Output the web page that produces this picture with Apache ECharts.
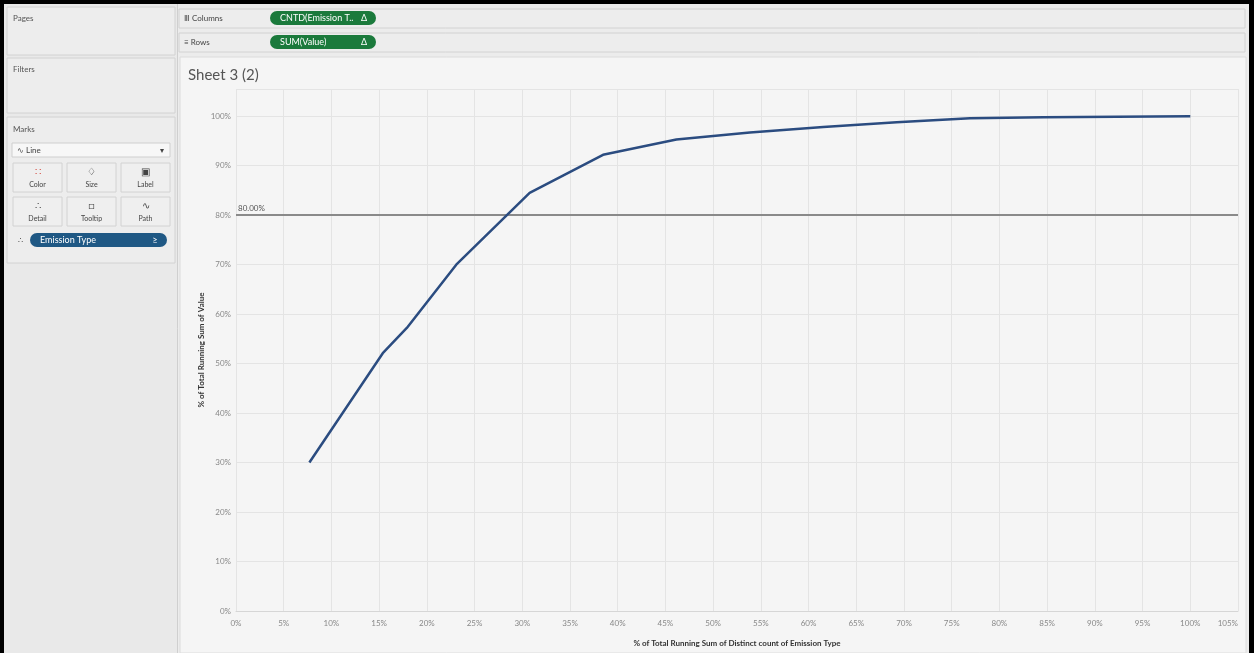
<!DOCTYPE html>
<html>
<head>
<meta charset="utf-8">
<script src="https://cdn.jsdelivr.net/npm/echarts@6/dist/echarts.min.js"></script>
<style>
  html, body { margin: 0; padding: 0; background: #000; }
  #chart { width: 1254px; height: 653px; }
</style>
</head>
<body>
<div id="chart"></div>
<script>
// running share of distinct emission types (x) vs running share of value (y)
var xShare = [0.0769, 0.1538, 0.179, 0.2308, 0.3077, 0.3846, 0.4615, 0.5385, 0.6154, 0.6923, 0.7692, 0.8462, 0.9231, 1.0];
var yShare = [0.300, 0.521, 0.572, 0.700, 0.845, 0.922, 0.953, 0.967, 0.978, 0.988, 0.996, 0.998, 0.999, 1.000];
var refValue = 0.8;
var refLabel = '80.00%';

var xTitle = '% of Total Running Sum of Distinct count of Emission Type';
var yTitle = '% of Total Running Sum of Value';
var sheetTitle = 'Sheet 3 (2)';

var FONT = 'Lato, "Noto Sans", sans-serif';
var lineColor = '#2b4c80';

function pct(v) {
    return Math.round(v * 100) + '%';
}

var points = xShare.map(function (x, i) { return [x, yShare[i]]; });

// tableau-like side panels and shelves, drawn as plain graphic shapes (kept under the grid)
function card(x, y, w, h) {
    return { type: 'rect', shape: { x: x, y: y, width: w, height: h }, style: { fill: '#ededed', stroke: '#d2d2d2', lineWidth: 1 }, z: -8 };
}
function label(x, y, t, size, color, extra) {
    var s = { text: t, x: x, y: y, fontSize: size || 9, fontFamily: FONT, fill: color || '#555' };
    if (extra) { for (var k in extra) s[k] = extra[k]; }
    return { type: 'text', style: s, z: -5 };
}
function pill(x, y, w, h, fill, t, tail) {
    return [
        { type: 'rect', shape: { x: x, y: y, width: w, height: h, r: h / 2 }, style: { fill: fill }, z: -6 },
        label(x + 10, y + h / 2, t, 9, '#fff', { verticalAlign: 'middle' }),
        label(x + w - 12, y + h / 2, tail, 9, '#fff', { verticalAlign: 'middle', align: 'center' })
    ];
}

var markButtons = [
    { name: 'Color', icon: '\u2237', col: 0, row: 0 },
    { name: 'Size', icon: '\u2662', col: 1, row: 0 },
    { name: 'Label', icon: '\u25A3', col: 2, row: 0 },
    { name: 'Detail', icon: '\u2234', col: 0, row: 1 },
    { name: 'Tooltip', icon: '\u25A1', col: 1, row: 1 },
    { name: 'Path', icon: '\u223F', col: 2, row: 1 }
];

var graphics = [
    { type: 'rect', shape: { x: 4, y: 4, width: 1245, height: 649 }, style: { fill: '#ececec' }, z: -10 },
    { type: 'rect', shape: { x: 4, y: 4, width: 174, height: 649 }, style: { fill: '#e9e9e9' }, z: -9 },
    { type: 'line', shape: { x1: 177.5, y1: 4, x2: 177.5, y2: 653 }, style: { stroke: '#cfcfcf' }, z: -8 },
    card(7, 7, 168, 48),
    label(13, 14, 'Pages', 8),
    card(7, 58, 168, 55),
    label(13, 65, 'Filters', 8),
    card(7, 117, 168, 146),
    label(13, 125, 'Marks', 8),
    { type: 'rect', shape: { x: 12, y: 143, width: 158, height: 14 }, style: { fill: '#f7f7f7', stroke: '#cfcfcf' }, z: -7 },
    label(17, 150, '\u223F Line', 8, '#444', { verticalAlign: 'middle' }),
    label(162, 150, '\u25BE', 8, '#444', { verticalAlign: 'middle', align: 'center' }),
    // shelves
    card(179, 9, 1066, 19),
    label(184, 18, '\u2162 Columns', 8, '#444', { verticalAlign: 'middle' }),
    card(179, 33, 1066, 19),
    label(184, 42, '\u2261 Rows', 8, '#444', { verticalAlign: 'middle' }),
    // chart pane
    { type: 'rect', shape: { x: 180, y: 57, width: 1066, height: 596 }, style: { fill: '#f5f5f5', stroke: '#dcdcdc' }, z: -8 },
    label(188, 68, sheetTitle, 15, '#555'),
    {
        type: 'text', x: 201, y: 350, rotation: Math.PI / 2, z: -5,
        style: { text: yTitle, x: 0, y: 0, fontSize: 8, fontWeight: 'bold', fontFamily: FONT, fill: '#333', align: 'center', verticalAlign: 'middle' }
    }
];

markButtons.forEach(function (b) {
    var bx = 13 + b.col * 54, by = 163 + b.row * 34;
    graphics.push({ type: 'rect', shape: { x: bx, y: by, width: 49, height: 29 }, style: { fill: '#efefef', stroke: '#d2d2d2' }, z: -7 });
    graphics.push(label(bx + 24.5, by + 9, b.icon, 10, b.name === 'Color' ? '#d4463c' : '#444', { align: 'center', verticalAlign: 'middle' }));
    graphics.push(label(bx + 24.5, by + 22, b.name, 7, '#444', { align: 'center', verticalAlign: 'middle' }));
});
graphics.push(label(20, 240, '\u2234', 8, '#444', { align: 'center', verticalAlign: 'middle' }));
graphics = graphics.concat(pill(30, 233, 137, 14, '#1f5884', 'Emission Type', '\u2265'));
graphics = graphics.concat(pill(270, 11, 106, 14, '#1b7a3c', 'CNTD(Emission T..', '\u0394'));
graphics = graphics.concat(pill(270, 35, 106, 14, '#1b7a3c', 'SUM(Value)', '\u0394'));

var myChart = echarts.init(document.getElementById('chart'));

var option = {
    backgroundColor: '#000',
    animation: false,
    textStyle: { fontFamily: FONT },
    graphic: { elements: graphics },
    grid: { left: 236, right: 16, top: 89, bottom: 42, containLabel: false },
    xAxis: {
        type: 'value',
        min: 0,
        max: 1.05,
        interval: 0.05,
        name: xTitle,
        nameLocation: 'middle',
        nameGap: 28,
        nameTextStyle: { fontSize: 8, fontWeight: 'bold', color: '#333' },
        axisLine: { show: true, lineStyle: { color: '#d6d6d6' } },
        axisTick: { show: false },
        axisLabel: {
            color: '#888', fontSize: 8, margin: 8,
            alignMaxLabel: 'right',
            formatter: pct
        },
        splitLine: { show: true, lineStyle: { color: '#e4e4e4' } }
    },
    yAxis: {
        type: 'value',
        min: 0,
        max: 1.055,
        interval: 0.1,
        axisLine: { show: false },
        axisTick: { show: false },
        axisLabel: {
            color: '#888', fontSize: 8, margin: 5, showMaxLabel: false,
            formatter: function (v) { return v > 1.01 ? '' : pct(v); }
        },
        splitLine: { show: true, lineStyle: { color: '#e4e4e4' } }
    },
    series: [{
        type: 'line',
        data: points,
        symbol: 'none',
        lineStyle: { color: lineColor, width: 2.5 },
        z: 5,
        markLine: {
            silent: true,
            symbol: 'none',
            data: [{ yAxis: refValue }],
            lineStyle: { color: '#8a8a8a', width: 2, type: 'solid' },
            label: {
                show: true,
                position: 'insideStartTop',
                formatter: refLabel,
                color: '#555',
                fontSize: 8,
                distance: [2, 3]
            }
        }
    }]
};

myChart.setOption(option);
</script>
</body>
</html>
